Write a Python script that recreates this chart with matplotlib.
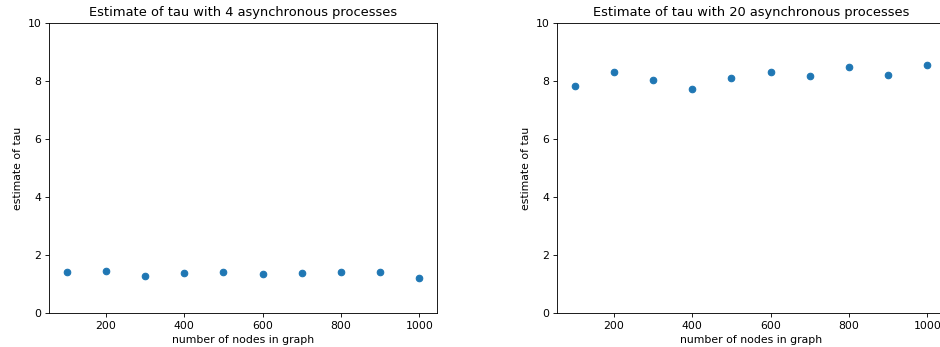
import matplotlib
matplotlib.use("Agg")
import matplotlib.pyplot as plt

nodes = [100, 200, 300, 400, 500, 600, 700, 800, 900, 1000]
tau_4 = [1.40, 1.45, 1.28, 1.38, 1.40, 1.34, 1.38, 1.41, 1.41, 1.21]
tau_20 = [7.83, 8.31, 8.03, 7.72, 8.10, 8.31, 8.17, 8.50, 8.21, 8.55]
procs = [4, 20]

# the original was drawn larger and scaled down, so use a low dpi
dpi = 940 / 12.0
fig = plt.figure(figsize=(12.0, 347 / dpi), dpi=dpi)
ax1 = fig.add_axes([49 / 940, 34 / 347, 388 / 940, 290 / 347])
ax2 = fig.add_axes([557 / 940, 34 / 347, 388 / 940, 290 / 347])

for ax, vals, p in zip([ax1, ax2], [tau_4, tau_20], procs):
    ax.scatter(nodes, vals)
    ax.set_ylim(0, 10)
    ax.set_title("Estimate of tau with %d asynchronous processes" % p)
    ax.set_xlabel("number of nodes in graph")
    ax.set_ylabel("estimate of tau")

fig.savefig("out.png", dpi=dpi)
